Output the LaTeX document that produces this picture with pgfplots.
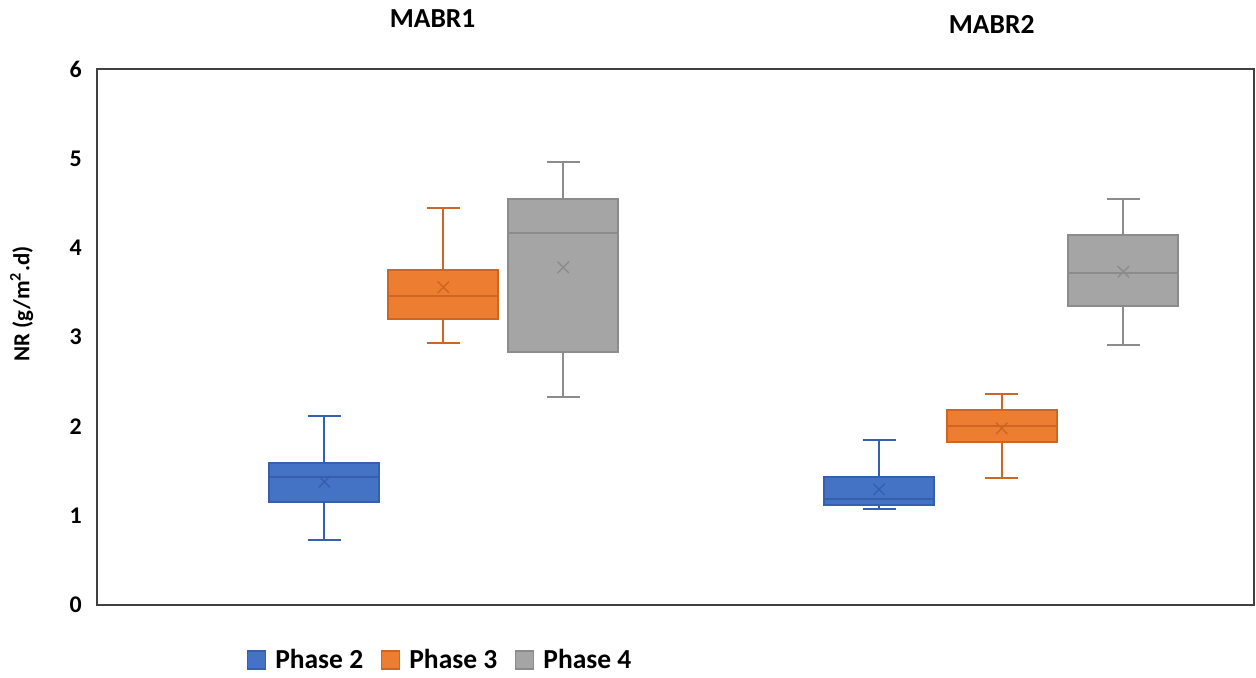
\documentclass[border=0pt]{standalone}
\usepackage{fontspec}
\setmainfont{Carlito}
\usepackage{pgfplots}
\pgfplotsset{compat=1.18}
\usepgfplotslibrary{statistics}

\definecolor{p2fill}{HTML}{4472C4}
\definecolor{p2edge}{HTML}{3460AE}
\definecolor{p3fill}{HTML}{ED7D31}
\definecolor{p3edge}{HTML}{CF6522}
\definecolor{p4fill}{HTML}{A5A5A5}
\definecolor{p4edge}{HTML}{8C8C8C}
\definecolor{framegray}{HTML}{404040}

\pgfplotsset{
  nrbox/.style={boxplot/draw direction=y, boxplot/box extend=1.10,
    boxplot/whisker extend=0.33, line width=1bp, forget plot},
  nrmean/.style={only marks, mark=x, mark size=4bp, line width=0.7bp, forget plot},
}

\begin{document}
\begin{tikzpicture}
\path[use as bounding box] (-48.35bp,-36.5bp) rectangle (579.65bp,302.5bp);
\begin{axis}[
  scale only axis, width=578.65bp, height=268bp,
  xmin=0, xmax=11.573, ymin=0, ymax=6,
  xtick=\empty, ytick={0,1,2,3,4,5,6},
  major tick length=0pt,
  axis line style={draw=framegray, line width=1bp},
  /pgf/number format/assume math mode=true,
  yticklabel style={font=\bfseries\fontsize{12}{14}\selectfont, xshift=-4bp},
  clip=false,
  legend image code/.code={\draw[#1] (0bp,-4.5bp) rectangle (9bp,4.5bp);},
  legend style={at={(0.1296,-0.1026)}, anchor=west, draw=none, fill=none,
    inner sep=0pt, font=\bfseries\fontsize{13.8}{16}\selectfont,
    /tikz/every odd column/.append style={column sep=2.5bp},
    /tikz/every even column/.append style={column sep=7bp}},
  legend columns=3,
]
% legend swatches
\addlegendimage{fill=p2fill, draw=p2edge, line width=0.6bp}
\addlegendentry{Phase 2}
\addlegendimage{fill=p3fill, draw=p3edge, line width=0.6bp}
\addlegendentry{Phase 3}
\addlegendimage{fill=p4fill, draw=p4edge, line width=0.6bp}
\addlegendentry{Phase 4}

% MABR1
\addplot[nrbox, fill=p2fill, draw=p2edge, boxplot prepared={draw position=2.276,
  lower whisker=0.728, lower quartile=1.150, median=1.436,
  upper quartile=1.586, upper whisker=2.119}] coordinates {};
\addplot[nrbox, fill=p3fill, draw=p3edge, boxplot prepared={draw position=3.466,
  lower whisker=2.933, lower quartile=3.198, median=3.462,
  upper quartile=3.754, upper whisker=4.442}] coordinates {};
\addplot[nrbox, fill=p4fill, draw=p4edge, boxplot prepared={draw position=4.666,
  lower whisker=2.328, lower quartile=2.829, median=4.161,
  upper quartile=4.545, upper whisker=4.963}] coordinates {};

% MABR2
\addplot[nrbox, fill=p2fill, draw=p2edge, boxplot prepared={draw position=7.823,
  lower whisker=1.071, lower quartile=1.116, median=1.187,
  upper quartile=1.436, upper whisker=1.844}] coordinates {};
\addplot[nrbox, fill=p3fill, draw=p3edge, boxplot prepared={draw position=9.050,
  lower whisker=1.425, lower quartile=1.828, median=2.004,
  upper quartile=2.183, upper whisker=2.362}] coordinates {};
\addplot[nrbox, fill=p4fill, draw=p4edge, boxplot prepared={draw position=10.266,
  lower whisker=2.914, lower quartile=3.347, median=3.713,
  upper quartile=4.142, upper whisker=4.545}] coordinates {};

% means
\addplot[nrmean, draw=p2edge] coordinates {(2.276,1.380) (7.823,1.295)};
\addplot[nrmean, draw=p3edge] coordinates {(3.466,3.557) (9.050,1.978)};
\addplot[nrmean, draw=p4edge] coordinates {(4.666,3.780) (10.266,3.731)};

\node[font=\bfseries\fontsize{13.8}{16}\selectfont] at (axis cs:3.359,6.568) {MABR1};
\node[font=\bfseries\fontsize{13.8}{16}\selectfont] at (axis cs:8.95,6.493) {MABR2};
\node[rotate=90, font=\bfseries\fontsize{11.5}{13}\selectfont] at (axis cs:-0.75,3.37) {NR (g/m\textsuperscript{2}.d)};
\end{axis}
\end{tikzpicture}
\end{document}
